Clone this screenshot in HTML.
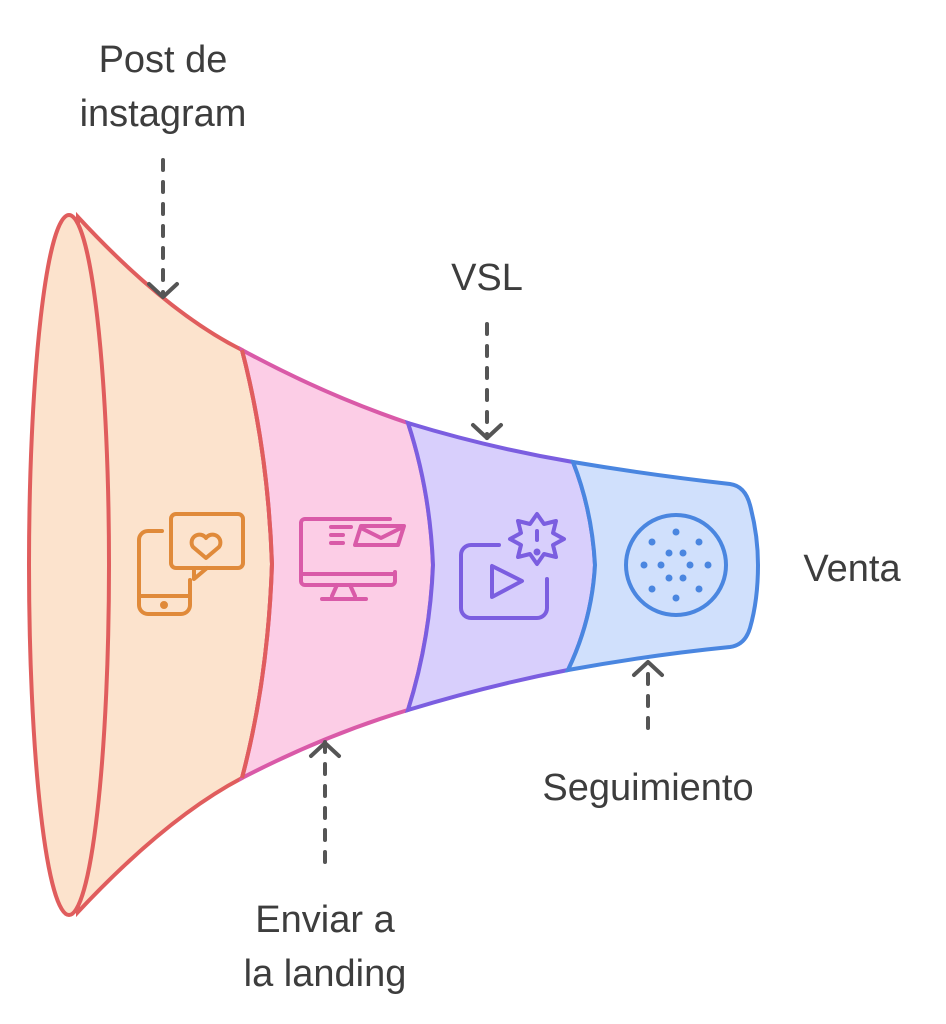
<!DOCTYPE html>
<html><head><meta charset="utf-8"><style>
html,body{margin:0;padding:0;background:#fff;width:946px;height:1024px;overflow:hidden}
text{font-family:"Liberation Sans",sans-serif;fill:#3d3d3d;font-size:38px}
</style></head><body>
<svg width="946" height="1024" viewBox="0 0 946 1024" xmlns="http://www.w3.org/2000/svg">
<path d="M78,217 Q166,312 242,350 Q268,450 272,564 Q268,680 242,778 Q166,818 78,912 Z" fill="#fce3cd" stroke="#e05d5d" stroke-width="4"/>
<path d="M242,350 Q325,395 408,423 Q430,490 433,565 Q430,640 408,710 Q325,735 242,778 Q268,680 272,564 Q268,450 242,350 Z" fill="#fccde6" stroke="#d95aa8" stroke-width="4"/>
<path d="M408,423 Q490,448 573,462 Q592,510 595,565 Q592,620 568,670 Q490,685 408,710 Q430,640 433,565 Q430,490 408,423 Z" fill="#d8cffc" stroke="#7b5ee0" stroke-width="4"/>
<path d="M573,462 Q650,475 730,484 Q745,486 750,505 Q758,535 758,565 Q758,600 750,628 Q745,645 730,647 Q650,655 568,670 Q592,620 595,565 Q592,510 573,462 Z" fill="#d0e0fc" stroke="#4a86e0" stroke-width="4"/>
<path d="M242,350 Q268,450 272,564 Q268,680 242,778" fill="none" stroke="#e05d5d" stroke-width="4"/>
<ellipse cx="69" cy="565" rx="40" ry="350" fill="#fce3cd" stroke="#e05d5d" stroke-width="4"/>
<g fill="none" stroke="#e08a3a" stroke-width="4" stroke-linecap="round" stroke-linejoin="round">
<path d="M162,531 h-14 a9,9 0 0 0 -9,9 v65 a9,9 0 0 0 9,9 h33 a9,9 0 0 0 9,-9 v-25"/>
<path d="M139,596 h51"/><circle cx="164" cy="605" r="2" fill="#e08a3a"/>
<path d="M177,568 h61 a5,5 0 0 0 5,-5 v-44 a5,5 0 0 0 -5,-5 h-62 a5,5 0 0 0 -5,5 v44 a5,5 0 0 0 5,5 h18 v11 l13,-11"/>
<path d="M206,558 l-13,-11 a7,7 0 0 1 13,-9 a7,7 0 0 1 13,9 z"/>
</g>
<g fill="none" stroke="#d95aa8" stroke-width="4" stroke-linecap="round" stroke-linejoin="round" transform="translate(0,200)">
<path d="M390,319 h-85 a4,4 0 0 0 -4,4 v58 a4,4 0 0 0 4,4 h86 a4,4 0 0 0 4,-4 v-9 M301,374 h94"/>
<path d="M337,385 l-5,11 M350,385 l5,11 M322,399 h44"/>
<path d="M331,327 h20 M331,335 h12 M331,343 h12"/>
<path d="M361,326 h43 l-6,19 h-43 z M361,328 l20,10 l22,-11"/>
</g>
<g fill="none" stroke="#7b5ee0" stroke-width="4" stroke-linecap="round" stroke-linejoin="round">
<path d="M499,545 h-28 a10,10 0 0 0 -10,10 v53 a10,10 0 0 0 10,10 h66 a10,10 0 0 0 10,-10 v-29"/>
<path d="M492,566 v31 l30,-16 z"/>
<path d="M537,514 l7,10 l12,-3 l-3,12 l11,6 l-11,6 l3,12 l-12,-3 l-7,10 l-7,-10 l-12,3 l3,-12 l-11,-6 l11,-6 l-3,-12 l12,3 z"/>
<path d="M537,531 v9"/><circle cx="537" cy="552" r="1.5" fill="#7b5ee0"/>
</g>
<g fill="#4a86e0" stroke="none">
<circle cx="676" cy="565" r="50" fill="none" stroke="#4a86e0" stroke-width="4"/>
<circle cx="676" cy="532" r="3.5"/><circle cx="652" cy="542" r="3.5"/><circle cx="699" cy="542" r="3.5"/>
<circle cx="669" cy="553" r="3.5"/><circle cx="683" cy="553" r="3.5"/>
<circle cx="644" cy="565" r="3.5"/><circle cx="661" cy="565" r="3.5"/><circle cx="690" cy="565" r="3.5"/><circle cx="708" cy="565" r="3.5"/>
<circle cx="669" cy="578" r="3.5"/><circle cx="683" cy="578" r="3.5"/>
<circle cx="652" cy="589" r="3.5"/><circle cx="699" cy="589" r="3.5"/><circle cx="676" cy="598" r="3.5"/>
</g>
<g fill="none" stroke="#555" stroke-width="4" stroke-linecap="round" stroke-linejoin="round">
<path d="M163,160 V296" stroke-dasharray="10,12"/><path d="M149,284 l14,13 l14,-13"/>
<path d="M487,324 V438" stroke-dasharray="10,12"/><path d="M473,425 l14,13 l14,-13"/>
<path d="M325,862 V742" stroke-dasharray="10,12"/><path d="M311,756 l14,-13 l14,13"/>
<path d="M648,728 V662" stroke-dasharray="10,12"/><path d="M634,675 l14,-13 l14,13"/>
</g>
<text x="163" y="72" text-anchor="middle">Post de</text>
<text x="163" y="126" text-anchor="middle">instagram</text>
<text x="487" y="290" text-anchor="middle">VSL</text>
<text x="852" y="581" text-anchor="middle">Venta</text>
<text x="648" y="800" text-anchor="middle">Seguimiento</text>
<text x="325" y="932" text-anchor="middle">Enviar a</text>
<text x="325" y="986" text-anchor="middle">la landing</text>
</svg>
</body></html>
